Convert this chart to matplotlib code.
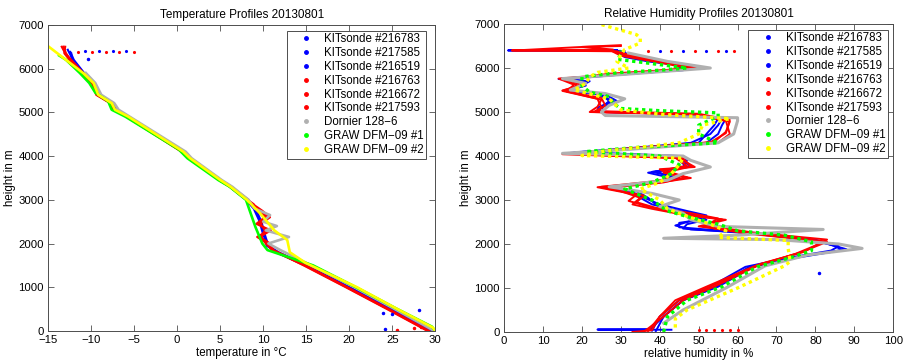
import matplotlib
matplotlib.use("Agg")
import matplotlib.pyplot as plt
from matplotlib.lines import Line2D

plt.rcParams['font.family'] = ['Liberation Sans', 'DejaVu Sans']
plt.rcParams['font.size'] = 8

labels = ["KITsonde #216783", "KITsonde #217585", "KITsonde #216519",
          "KITsonde #216763", "KITsonde #216672", "KITsonde #217593",
          "Dornier 128\u22126", "GRAW DFM\u221209 #1", "GRAW DFM\u221209 #2"]
colors = ['#0000ff', '#0000ff', '#0000ff', '#ff0000', '#ff0000', '#ff0000',
          '#b0b0b0', '#00ff00', '#ffff00']

# ---- temperature profiles (height in m, temperature in degC) ----
t_h_216783 = [0, 500, 1000, 1500, 1800, 1950, 2200, 2500, 2800, 3000, 3300, 3450, 3950, 4100, 4900, 5060, 5210, 5400, 5670, 5900, 6200, 6430]
t_216783 = [29.4, 24.7, 19.9, 15.0, 11.6, 10.4, 10.1, 9.7, 9.0, 8.1, 6.2, 5.0, 1.5, 0.7, -5.7, -7.2, -7.6, -9.2, -9.7, -10.9, -12.1, -12.7]
t_h_217585 = [0, 500, 1000, 1500, 1800, 1950, 2200, 2500, 2800, 3000, 3300, 3450, 3950, 4100, 4900, 5060, 5210, 5400, 5670, 5900, 6200, 6380]
t_217585 = [29.6, 24.9, 20.1, 15.1, 11.8, 10.6, 10.2, 9.8, 9.1, 8.2, 6.3, 5.1, 1.6, 0.8, -5.6, -7.1, -7.5, -9.1, -9.6, -10.8, -12.0, -12.4]
t_h_216519 = [0, 500, 1000, 1500, 1800, 1950, 2200, 2500, 2800, 3000, 3300, 3450, 3950, 4100, 4900, 5060, 5210, 5400, 5670, 5900, 6200, 6350]
t_216519 = [29.5, 24.8, 19.9, 14.9, 11.5, 10.7, 10.0, 9.6, 8.9, 8.0, 6.1, 4.9, 1.4, 0.6, -5.8, -7.3, -7.7, -9.3, -9.8, -11.0, -12.2, -12.3]
t_h_red = [0, 500, 1000, 1500, 1850, 2000, 2150, 2300, 2450, 2600, 2750, 2900, 3000, 3300, 3450, 3950, 4100, 4900, 5060, 5210, 5400, 5670, 5900, 6200, 6350, 6500]
t_216763 = [29.2, 24.5, 19.7, 14.8, 11.0, 10.5, 9.3, 10.6, 9.4, 10.5, 9.6, 8.6, 8.3, 6.3, 5.0, 1.5, 0.7, -5.7, -7.2, -7.6, -9.2, -9.7, -10.9, -12.3, -13.0, -13.4]
t_216672 = [29.3, 24.6, 19.8, 14.9, 11.2, 10.8, 9.6, 10.9, 9.2, 10.2, 9.3, 8.9, 8.2, 6.2, 5.0, 1.4, 0.6, -5.8, -7.3, -7.7, -9.3, -9.8, -11.0, -12.4, -12.9, -13.2]
t_217593 = [29.1, 24.4, 19.6, 14.7, 11.1, 10.3, 9.8, 10.2, 9.7, 10.8, 9.9, 8.8, 8.1, 6.1, 4.9, 1.3, 0.5, -5.9, -7.4, -7.8, -9.4, -9.9, -11.1, -12.5, -13.1, -13.0]
t_h_dornier = [0, 500, 1000, 1500, 1850, 2000, 2150, 2300, 2400, 2500, 2650, 2800, 3000, 3300, 3450, 3950, 4100, 4900, 5060, 5210, 5400, 5670, 5900]
t_dornier = [29.9, 25.3, 20.6, 15.6, 12.0, 10.6, 13.0, 10.3, 11.6, 10.0, 10.8, 9.0, 8.3, 6.4, 5.2, 1.7, 1.0, -5.5, -6.8, -7.3, -8.8, -9.5, -10.6]
t_h_graw1 = [0, 100, 500, 1000, 1500, 1850, 2000, 2380, 3000, 3300, 3450, 3950, 4150, 4900, 5060, 5250, 5450, 5670, 5900, 6200, 6300]
t_graw1 = [30.0, 29.6, 25.6, 20.8, 15.8, 10.5, 9.9, 9.1, 8.0, 6.1, 4.8, 1.2, 0.2, -6.0, -7.6, -8.0, -9.5, -10.2, -11.3, -12.9, -13.7]
t_h_graw2 = [0, 80, 500, 1000, 1560, 1800, 2080, 2300, 2700, 3000, 3300, 3455, 3952, 4103, 4905, 5057, 5210, 5400, 5668, 5897, 6545]
t_graw2 = [30.0, 29.7, 25.6, 20.9, 14.9, 13.1, 12.8, 11.3, 9.6, 8.1, 6.2, 5.0, 1.5, 0.7, -5.7, -7.2, -7.6, -9.15, -9.7, -10.9, -15.2]

# single stray sonde readings
t_top_dots = [-11.5, -10.7, -9.9, -9.1, -8.3, -7.5, -6.7, -5.9, -5.0]
t_blue_dots = [23.9, 25.0, 28.1, 24.1, -10.3]
h_blue_dots = [420, 380, 480, 40, 6220]
t_red_dots = [25.5, 27.5, 28.3]
h_red_dots = [30, 70, 90]

# ---- relative humidity profiles (height in m, RH in %) ----
rh_h_216783 = [50, 55, 60, 350, 720, 1030, 1480, 1700, 1860, 1950, 2100, 2250, 2330, 2420, 2550, 2650, 2750, 2900, 3050, 3200, 3290, 3400, 3500, 3620, 3750, 3900, 4000, 4080, 4150, 4300, 4500, 4700, 4850, 4950, 5000, 5100, 5250, 5400, 5490, 5600, 5700, 5760, 5850, 5950, 6050, 6150, 6250, 6350, 6390, 6400, 6410]
rh_216783 = [43, 24, 37.5, 41, 46, 54.5, 63, 76, 87, 85, 80, 65, 48, 44, 49, 52, 47, 40, 36, 32, 26, 38, 43, 37, 46, 47, 43, 18, 30, 48, 53, 55, 56, 47, 25, 24, 28, 24, 17, 20, 21, 15, 29, 44, 46, 38, 32, 30, 30, 1, 29]
rh_h_217585 = [30, 350, 720, 1030, 1480, 1700, 1850, 1950, 2100, 2250, 2350, 2450, 2550, 2650, 2750, 2900, 3050, 3200, 3300, 3400, 3500, 3650, 3750, 3900, 4000, 4070, 4150, 4300, 4500, 4700, 4850, 4950, 5010, 5100, 5250, 5400, 5480, 5600, 5700, 5740, 5850, 5950, 6050, 6150, 6250, 6350, 6400]
rh_217585 = [38, 40, 45, 53, 62, 74, 84, 86, 78, 62, 46, 47, 52, 50, 45, 38, 35, 33, 28, 39, 44, 39, 47, 45, 44, 17, 28, 50, 52, 54, 55, 45, 24, 25, 27, 25, 16, 21, 20, 15, 30, 45, 47, 37, 31, 29, 29]
rh_h_216519 = [20, 350, 720, 1030, 1480, 1700, 1880, 1980, 2100, 2250, 2380, 2480, 2560, 2650, 2750, 2900, 3050, 3200, 3300, 3400, 3500, 3640, 3760, 3900, 4000, 4090, 4150, 4300, 4500, 4700, 4850, 4950, 5000, 5100, 5250, 5400, 5500, 5600, 5700, 5750, 5850, 5950, 6050, 6150, 6250, 6350, 6380]
rh_216519 = [39, 41, 46, 55, 64, 75, 88, 84, 79, 63, 45, 45, 51, 49, 44, 39, 37, 34, 27, 40, 45, 38, 48, 46, 45, 19, 30, 52, 55, 56, 57, 48, 26, 25, 29, 26, 17, 20, 22, 14, 28, 46, 49, 39, 33, 31, 31]
rh_h_216763 = [0, 40, 350, 720, 1030, 1550, 1800, 2050, 2250, 2400, 2550, 2650, 2800, 2900, 3050, 3200, 3300, 3400, 3500, 3600, 3700, 3750, 3950, 4050, 4150, 4300, 4500, 4800, 4950, 5000, 5100, 5300, 5480, 5600, 5750, 5850, 6000, 6150, 6300, 6390, 6400, 6420, 6480, 6500]
rh_216763 = [33, 38, 40, 45, 53, 66, 76, 83, 63, 50, 57, 47, 38, 33, 35, 30, 25, 40, 48, 42, 40, 49, 45, 16, 30, 55, 58, 57, 50, 23, 25, 24, 15, 19, 15, 28, 50, 40, 31, 28, 2, 28, 20, 30]
rh_h_216672 = [10, 350, 720, 1030, 1500, 1780, 2000, 2100, 2260, 2420, 2580, 2700, 2820, 2950, 3100, 3270, 3400, 3520, 3620, 3760, 3950, 4040, 4150, 4320, 4550, 4780, 4940, 5000, 5120, 5280, 5470, 5620, 5760, 5860, 6010, 6160, 6300, 6380, 6400, 6470, 6520]
rh_216672 = [36, 41, 46, 54, 65, 75, 81, 83, 64, 52, 55, 48, 39, 34, 36, 26, 41, 47, 41, 48, 46, 15, 29, 54, 57, 58, 49, 22, 24, 25, 16, 18, 14, 29, 49, 41, 32, 29, 3, 18, 30]
rh_h_217593 = [20, 350, 720, 1030, 1520, 1820, 2060, 2240, 2400, 2560, 2680, 2850, 2980, 3120, 3290, 3420, 3540, 3680, 3780, 3960, 4060, 4160, 4310, 4520, 4820, 4960, 5020, 5150, 5320, 5490, 5610, 5740, 5870, 5990, 6140, 6280, 6370]
rh_217593 = [37, 40, 44, 52, 65, 77, 82, 62, 51, 56, 46, 37, 32, 34, 24, 38, 46, 41, 47, 44, 17, 31, 53, 57, 58, 50, 24, 26, 25, 15, 20, 16, 27, 48, 39, 30, 28]
rh_h_dornier = [200, 500, 1000, 1500, 1750, 1900, 2000, 2100, 2130, 2200, 2330, 2400, 2550, 2700, 2850, 3000, 3150, 3300, 3450, 3600, 3750, 3900, 4000, 4060, 4150, 4300, 4500, 4800, 4870, 4920, 5000, 5150, 5300, 5420, 5500, 5650, 5760, 5850, 6000, 6150, 6340]
rh_dornier = [41, 46, 57, 67, 78, 92, 86, 70, 41, 60, 82, 55, 48, 46, 40, 45, 38, 27, 42, 46, 53, 48, 46, 15, 32, 55, 59, 60, 60, 26, 25, 27, 31, 26, 17, 21, 15, 30, 53, 42, 32]
rh_h_graw1 = [0, 350, 720, 1030, 1480, 1700, 1850, 2050, 2200, 2300, 2450, 2600, 2750, 3000, 3250, 3400, 3600, 3800, 4000, 4100, 4200, 4300, 4500, 4700, 4900, 4980, 5030, 5080, 5200, 5350, 5450, 5600, 5800, 5900, 5950, 6000, 6100, 6200, 6300, 6400]
rh_graw1 = [41, 42, 47, 56, 65, 74, 79, 79, 72, 60, 55, 48, 42, 38, 31, 38, 43, 45, 40, 21, 35, 55, 50, 50, 55, 55, 40, 30, 28, 27, 22, 20, 20, 30, 40, 47, 38, 29, 30, 30]
rh_h_graw2 = [100, 300, 500, 1000, 1500, 1600, 1900, 2080, 2150, 2300, 2450, 2600, 2800, 3000, 3250, 3400, 3600, 3800, 3950, 4010, 4100, 4300, 4500, 4700, 4850, 4950, 5050, 5300, 5500, 5650, 5800, 5900, 6000, 6150, 6300, 6420, 6570, 6680, 6760, 7000]
rh_graw2 = [44, 44, 47, 60, 72, 73.5, 73, 73, 55, 57, 53, 48, 42, 40, 35, 40, 43, 45, 46, 20, 25, 45, 50, 51, 58, 40, 30, 27, 18, 21, 22, 24, 32, 29, 30, 31, 35, 35, 34, 24.5]

rh_top_dots = [37, 40, 43, 46, 49, 52, 55, 57, 59]
rh_red_bottom = [50, 52, 54, 56, 58, 60]
rh_blue_dot = [80.8]
h_blue_dot = [1340]

temp_series = [(t_216783, t_h_216783), (t_217585, t_h_217585), (t_216519, t_h_216519),
               (t_216763, t_h_red), (t_216672, t_h_red), (t_217593, t_h_red),
               (t_dornier, t_h_dornier), (t_graw1, t_h_graw1), (t_graw2, t_h_graw2)]
rh_series = [(rh_216783, rh_h_216783), (rh_217585, rh_h_217585), (rh_216519, rh_h_216519),
             (rh_216763, rh_h_216763), (rh_216672, rh_h_216672), (rh_217593, rh_h_217593),
             (rh_dornier, rh_h_dornier), (rh_graw1, rh_h_graw1), (rh_graw2, rh_h_graw2)]


def style_axes(ax, title, xlabel):
    ax.set_title(title, fontsize=8.5, pad=5)
    ax.set_xlabel(xlabel, fontsize=8.3, labelpad=1)
    ax.set_ylabel("height in m", fontsize=8.3, labelpad=2)
    ax.set_ylim(0, 7000)
    ax.set_yticks(range(0, 7001, 1000))
    ax.tick_params(direction='in', top=True, right=True, length=4, width=0.6,
                   color='0.3', labelsize=8.2, pad=3)
    for sp in ax.spines.values():
        sp.set_color('0.3')
        sp.set_linewidth(0.7)


def add_legend(ax, anchor):
    handles = [Line2D([], [], ls='none', marker='.', ms=5, color=c) for c in colors]
    leg = ax.legend(handles, labels, loc='upper right', bbox_to_anchor=anchor,
                    borderaxespad=0, fancybox=False, framealpha=1, fontsize=8.3,
                    handlelength=3.0, handletextpad=0.05, labelspacing=0.16,
                    borderpad=0.22)
    leg.get_frame().set_edgecolor('0.3')
    leg.get_frame().set_linewidth(0.7)


fig = plt.figure(figsize=(9.05, 3.64), dpi=100)

# left panel: temperature
ax1 = fig.add_axes([0.053, 0.0907, 0.428, 0.841])
for i, (vals, hts) in enumerate(temp_series):
    lw = 1.9 if i >= 6 else 1.5
    ax1.plot(vals, hts, color=colors[i], lw=lw)
ax1.plot(t_top_dots[::2], [6390] * len(t_top_dots[::2]), ls='none', marker='.', ms=2.5, color='#ff0000')
ax1.plot(t_top_dots[1::2], [6395] * len(t_top_dots[1::2]), ls='none', marker='.', ms=2.5, color='#0000ff')
ax1.plot(t_blue_dots, h_blue_dots, ls='none', marker='.', ms=3, color='#0000ff')
ax1.plot(t_red_dots, h_red_dots, ls='none', marker='.', ms=3, color='#ff0000')
ax1.set_xlim(-15, 30)
ax1.set_xticks(range(-15, 31, 5))
style_axes(ax1, "Temperature Profiles 20130801", "temperature in \u00b0C")
add_legend(ax1, (0.977, 0.981))

# right panel: relative humidity
ax2 = fig.add_axes([0.557, 0.088, 0.430, 0.846])
for i, (vals, hts) in enumerate(rh_series):
    if i >= 7:
        ax2.plot(vals, hts, color=colors[i], lw=2.4, ls=(0, (1, 1.1)))
    elif i == 6:
        ax2.plot(vals, hts, color=colors[i], lw=2.2)
    else:
        ax2.plot(vals, hts, color=colors[i], lw=1.4)
ax2.plot(rh_top_dots[::2], [6390] * len(rh_top_dots[::2]), ls='none', marker='.', ms=2.5, color='#ff0000')
ax2.plot(rh_top_dots[1::2], [6395] * len(rh_top_dots[1::2]), ls='none', marker='.', ms=2.5, color='#0000ff')
ax2.plot(rh_red_bottom, [35] * len(rh_red_bottom), ls='none', marker='.', ms=2.5, color='#ff0000')
ax2.plot(rh_blue_dot, h_blue_dot, ls='none', marker='.', ms=3, color='#0000ff')
ax2.set_xlim(0, 100)
ax2.set_xticks(range(0, 101, 10))
style_axes(ax2, "Relative Humidity Profiles 20130801", "relative humidity in %")
add_legend(ax2, (0.986, 0.981))

fig.savefig("out.png", dpi=100)
